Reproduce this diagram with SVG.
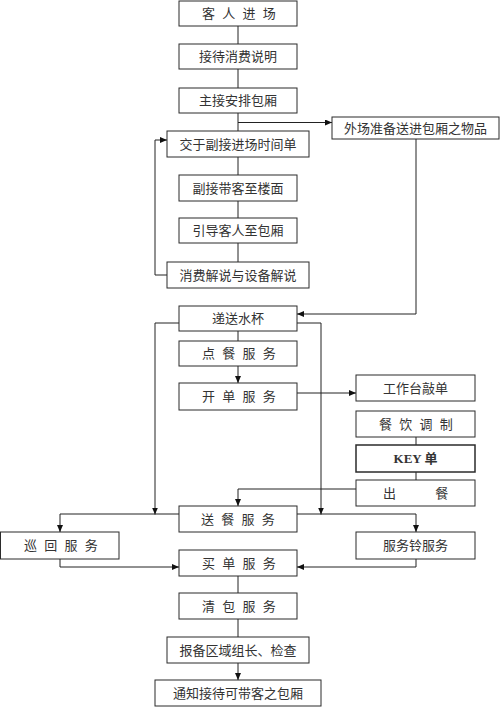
<svg xmlns="http://www.w3.org/2000/svg" width="500" height="708" viewBox="0 0 500 708">
<style>
.box{fill:#fff;stroke:#2b2b2b;stroke-width:1}
.t{font-family:"Liberation Serif","Noto Sans CJK SC",serif;font-size:13px;fill:#333;text-anchor:middle;dominant-baseline:central}
.sp{text-anchor:start;letter-spacing:2px}
.c{fill:none;stroke:#222;stroke-width:1}
.a{marker-end:url(#ah)}
</style>
<defs>
<marker id="ah" markerUnits="userSpaceOnUse" markerWidth="7" markerHeight="6" refX="7" refY="3" orient="auto">
<path d="M0,0 L7,3 L0,6 z" fill="#111"/>
</marker>
</defs>
<rect width="500" height="708" fill="#fff"/>
<g id="connectors">
<path class="c" d="M238,26 V44"/>
<path class="c" d="M238,69 V88"/>
<path class="c" d="M238,113 V131"/>
<path class="c a" d="M238,122.5 H332"/>
<path class="c" d="M238,157 V175"/>
<path class="c" d="M238,201 V218"/>
<path class="c" d="M238,243 V262"/>
<path class="c a" d="M167,275 H155 V140 H167"/>
<path class="c a" d="M416,139 V314 H297"/>
<path class="c" d="M238,331 V341"/>
<path class="c a" d="M238,366 V383"/>
<path class="c a" d="M297,393 H356"/>
<path class="c" d="M416,437 V445"/>
<path class="c" d="M416,472 V480"/>
<path class="c a" d="M356,489 H238 V506"/>
<path class="c a" d="M179,323 H155 V514.5"/>
<path class="c a" d="M297,323 H321 V514.5"/>
<path class="c a" d="M179,514 H60 V532"/>
<path class="c a" d="M297,514 H416 V532"/>
<path class="c a" d="M60,559 V567 H179"/>
<path class="c a" d="M416,559 V567 H297"/>
<path class="c" d="M238,576 V593"/>
<path class="c" d="M238,619 V637"/>
<path class="c a" d="M238,663 V680"/>
</g>
<g id="n1"><rect class="box" x="179" y="1" width="118" height="25"/><text class="t sp" x="202" y="13.5">客 人 进 场</text></g>
<g id="n2"><rect class="box" x="179" y="44" width="118" height="25"/><text class="t" x="238" y="56.5">接待消费说明</text></g>
<g id="n3"><rect class="box" x="179" y="88" width="118" height="25"/><text class="t" x="238" y="100.5">主接安排包厢</text></g>
<g id="n4"><rect class="box" x="332" y="117" width="167" height="22"/><text class="t" x="415.5" y="128">外场准备送进包厢之物品</text></g>
<g id="n5"><rect class="box" x="167" y="131" width="142" height="26"/><text class="t" x="238" y="144">交于副接进场时间单</text></g>
<g id="n6"><rect class="box" x="179" y="175" width="118" height="26"/><text class="t" x="238" y="188">副接带客至楼面</text></g>
<g id="n7"><rect class="box" x="179" y="218" width="118" height="25"/><text class="t" x="238" y="230.5">引导客人至包厢</text></g>
<g id="n8"><rect class="box" x="167" y="262" width="142" height="26"/><text class="t" x="238" y="275">消费解说与设备解说</text></g>
<g id="n9"><rect class="box" x="179" y="306" width="118" height="25"/><text class="t" x="238" y="318.5">递送水杯</text></g>
<g id="n10"><rect class="box" x="179" y="341" width="118" height="25"/><text class="t sp" x="202" y="353.5">点 餐 服 务</text></g>
<g id="n11"><rect class="box" x="179" y="383" width="118" height="27"/><text class="t sp" x="202" y="396.5">开 单 服 务</text></g>
<g id="n12"><rect class="box" x="356" y="375" width="119" height="26"/><text class="t" x="415.5" y="388">工作台敲单</text></g>
<g id="n13"><rect class="box" x="356" y="411" width="119" height="26"/><text class="t sp" x="379" y="424">餐 饮 调 制</text></g>
<g id="n14"><rect class="box" x="356" y="445" width="119" height="27" style="stroke-width:1.5"/><text class="t" x="415.5" y="458.5" style="font-weight:bold">KEY 单</text></g>
<g id="n15"><rect class="box" x="356" y="480" width="119" height="26"/><text class="t" x="383" y="493" style="text-anchor:start;letter-spacing:18px">出 餐</text></g>
<g id="n16"><rect class="box" x="179" y="506" width="118" height="26"/><text class="t sp" x="201" y="519">送 餐 服 务</text></g>
<g id="n17"><rect class="box" x="0.5" y="532" width="118.5" height="27"/><text class="t sp" x="24" y="545.5">巡 回 服 务</text></g>
<g id="n18"><rect class="box" x="356" y="532" width="119" height="27"/><text class="t" x="415.5" y="545.5">服务铃服务</text></g>
<g id="n19"><rect class="box" x="179" y="550" width="118" height="26"/><text class="t sp" x="202" y="563">买 单 服 务</text></g>
<g id="n20"><rect class="box" x="179" y="593" width="118" height="26"/><text class="t sp" x="202" y="606">清 包 服 务</text></g>
<g id="n21"><rect class="box" x="167" y="637" width="142" height="26"/><text class="t" x="238" y="650">报备区域组长、检查</text></g>
<g id="n22"><rect class="box" x="155" y="680" width="166" height="26"/><text class="t" x="238" y="693">通知接待可带客之包厢</text></g>
</svg>
